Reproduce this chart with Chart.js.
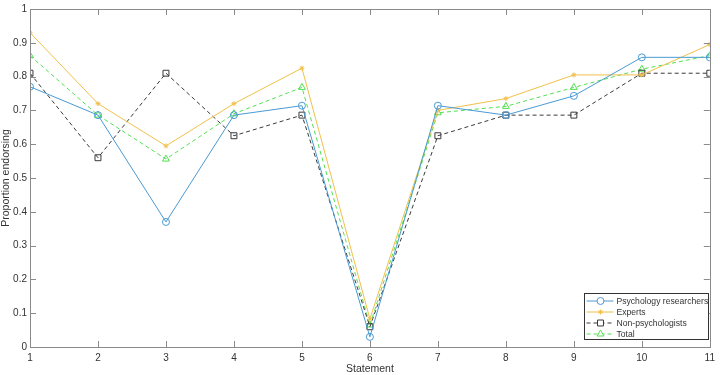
<!DOCTYPE html>
<html>
<head>
<meta charset="utf-8">
<script src="https://cdn.jsdelivr.net/npm/chart.js@4.4.0/dist/chart.umd.min.js"></script>
<style>
  html, body { margin: 0; padding: 0; background: #fff; }
  #wrap { width: 720px; height: 375px; position: relative; }
</style>
</head>
<body>
<div id="wrap"><canvas id="chart"></canvas></div>
<script>
// Data
const statements = [1, 2, 3, 4, 5, 6, 7, 8, 9, 10, 11];
const psychologyResearchers = [0.77, 0.686, 0.37, 0.686, 0.714, 0.03, 0.714, 0.686, 0.743, 0.857, 0.857];
const experts = [0.93, 0.72, 0.595, 0.72, 0.825, 0.083, 0.70, 0.735, 0.805, 0.805, 0.895];
const nonPsychologists = [0.81, 0.56, 0.81, 0.625, 0.686, 0.06, 0.625, 0.686, 0.686, 0.81, 0.81];
const total = [0.862, 0.686, 0.556, 0.69, 0.768, 0.065, 0.693, 0.712, 0.768, 0.822, 0.862];
const yTicks = [0, 0.1, 0.2, 0.3, 0.4, 0.5, 0.6, 0.7, 0.8, 0.9, 1];

const axisColor = '#8a8a8a';
const textColor = '#333333';
const fontFamily = '"Liberation Sans", Arial, Helvetica, sans-serif';

function toPoints(values) {
  return statements.map((s, i) => ({ x: s, y: values[i] }));
}

const datasets = [
  { label: 'Psychology researchers', data: toPoints(psychologyResearchers), borderColor: '#4a9ad4',
    pointStyle: 'circle', pointRadius: 3.5, borderDash: [] },
  { label: 'Experts', data: toPoints(experts), borderColor: '#f0c04a',
    pointStyle: 'star', pointRadius: 2.5, borderDash: [] },
  { label: 'Non-psychologists', data: toPoints(nonPsychologists), borderColor: '#3a3a3a',
    pointStyle: 'rect', pointRadius: 4.2, borderDash: [4, 3] },
  { label: 'Total', data: toPoints(total), borderColor: '#52e052',
    pointStyle: 'triangle', pointRadius: 4, borderDash: [4, 3] }
].map(d => ({
  ...d,
  borderWidth: 1,
  pointBorderWidth: 1,
  pointBorderColor: d.borderColor,
  pointBackgroundColor: 'rgba(0,0,0,0)',
  fill: false,
  tension: 0
}));

// Box around the axes with inward ticks (MATLAB style) + legend inside
const matlabAxes = {
  id: 'matlabAxes',
  afterDatasetsDraw(chart) {
    const { ctx, chartArea: a, scales } = chart;
    ctx.save();
    ctx.strokeStyle = axisColor;
    ctx.lineWidth = 1;
    ctx.strokeRect(Math.round(a.left) + 0.5, Math.round(a.top) + 0.5,
      Math.round(a.right - a.left), Math.round(a.bottom - a.top));
    const tl = 6;
    ctx.beginPath();
    statements.forEach(s => {
      const px = Math.round(scales.x.getPixelForValue(s)) + 0.5;
      ctx.moveTo(px, a.bottom); ctx.lineTo(px, a.bottom - tl);
      ctx.moveTo(px, a.top); ctx.lineTo(px, a.top + tl);
    });
    yTicks.forEach(t => {
      const py = Math.round(scales.y.getPixelForValue(t)) + 0.5;
      ctx.moveTo(a.left, py); ctx.lineTo(a.left + tl, py);
      ctx.moveTo(a.right, py); ctx.lineTo(a.right - tl, py);
    });
    ctx.stroke();

    // legend
    const lx = 584.5, ly = 293.5, lw = 124, lh = 46;
    ctx.fillStyle = '#fff';
    ctx.fillRect(lx, ly, lw, lh);
    ctx.strokeStyle = '#333';
    ctx.strokeRect(lx, ly, lw, lh);
    ctx.font = '8.6px ' + fontFamily;
    ctx.textBaseline = 'middle';
    chart.data.datasets.forEach((d, i) => {
      const y = ly + 7.5 + i * 11;
      ctx.strokeStyle = d.borderColor;
      ctx.lineWidth = 1;
      ctx.setLineDash(d.borderDash);
      ctx.beginPath();
      ctx.moveTo(lx + 2, y); ctx.lineTo(lx + 29, y);
      ctx.stroke();
      ctx.setLineDash([]);
      ctx.fillStyle = '#fff';
      Chart.helpers.drawPoint(ctx, {
        pointStyle: d.pointStyle, radius: d.pointRadius, rotation: 0, borderWidth: 1
      }, lx + 16, y);
      ctx.fillStyle = textColor;
      ctx.fillText(d.label, lx + 32, y + 0.5);
    });
    ctx.restore();
  }
};

new Chart(document.getElementById('chart'), {
  type: 'line',
  data: { datasets },
  plugins: [matlabAxes],
  options: {
    responsive: true,
    maintainAspectRatio: false,
    animation: false,
    layout: { padding: { left: 0, right: 4, top: 4, bottom: 0 } },
    plugins: { legend: { display: false }, tooltip: { enabled: false } },
    scales: {
      x: {
        type: 'linear', min: 1, max: 11,
        afterBuildTicks: s => { s.ticks = statements.map(v => ({ value: v })); },
        afterFit: s => { s.height = 28; },
        grid: { display: false, drawTicks: false, tickLength: 0 },
        border: { display: false },
        ticks: { color: textColor, font: { family: fontFamily, size: 10 }, padding: 5, maxRotation: 0 },
        title: { display: true, text: 'Statement', color: textColor, font: { family: fontFamily, size: 10.5 }, padding: { top: 0, bottom: 0 } }
      },
      y: {
        min: 0, max: 1,
        afterBuildTicks: s => { s.ticks = yTicks.map(v => ({ value: v })); },
        afterFit: s => { s.width = 30; },
        grid: { display: false, drawTicks: false, tickLength: 0 },
        border: { display: false },
        ticks: { color: textColor, font: { family: fontFamily, size: 10 }, padding: 3,
          callback: v => (v === 0 || v === 1) ? String(v) : v.toFixed(1) },
        title: { display: true, text: 'Proportion endorsing', color: textColor, font: { family: fontFamily, size: 10.5 }, padding: { top: 0, bottom: 0 } }
      }
    }
  }
});
</script>
</body>
</html>
